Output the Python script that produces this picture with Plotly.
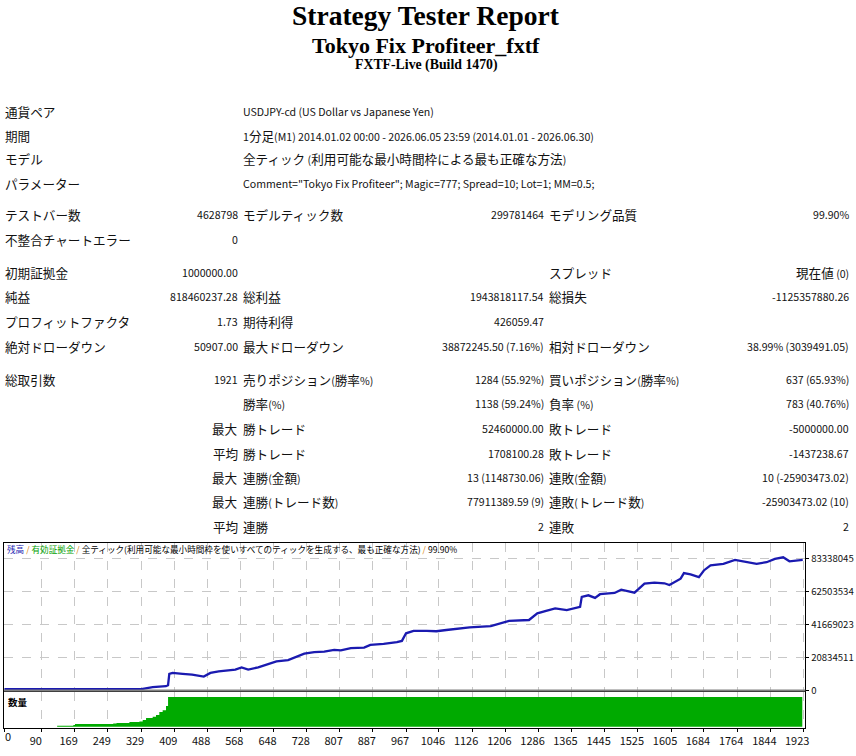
import re
import plotly.graph_objects as go

W, H = 856, 756

# ---- report header / table data ----
title_main = "Strategy Tester Report"
title_ea = "Tokyo Fix Profiteer_fxtf"
title_server = "FXTF-Live (Build 1470)"

info_labels = ["通貨ペア", "期間", "モデル", "パラメーター"]
info_values = ["USDJPY-cd (US Dollar vs Japanese Yen)",
               "1分足(M1) 2014.01.02 00:00 - 2026.06.05 23:59 (2014.01.01 - 2026.06.30)",
               "全ティック (利用可能な最小時間枠による最も正確な方法)",
               'Comment="Tokyo Fix Profiteer"; Magic=777; Spread=10; Lot=1; MM=0.5;']

stats_rows = [
    ("テストバー数", "4628798", "モデルティック数", "299781464", "モデリング品質", "99.90%"),
    ("不整合チャートエラー", "0", "", "", "", ""),
    ("初期証拠金", "1000000.00", "", "", "スプレッド", "現在値 (0)"),
    ("純益", "818460237.28", "総利益", "1943818117.54", "総損失", "-1125357880.26"),
    ("プロフィットファクタ", "1.73", "期待利得", "426059.47", "", ""),
    ("絶対ドローダウン", "50907.00", "最大ドローダウン", "38872245.50 (7.16%)", "相対ドローダウン", "38.99% (3039491.05)"),
    ("総取引数", "1921", "売りポジション(勝率%)", "1284 (55.92%)", "買いポジション(勝率%)", "637 (65.93%)"),
    ("", "", "勝率(%)", "1138 (59.24%)", "負率 (%)", "783 (40.76%)"),
    ("", "最大", "勝トレード", "52460000.00", "敗トレード", "-5000000.00"),
    ("", "平均", "勝トレード", "1708100.28", "敗トレード", "-1437238.67"),
    ("", "最大", "連勝(金額)", "13 (1148730.06)", "連敗(金額)", "10 (-25903473.02)"),
    ("", "最大", "連勝(トレード数)", "77911389.59 (9)", "連敗(トレード数)", "-25903473.02 (10)"),
    ("", "平均", "連勝", "2", "連敗", "2"),
]

# ---- chart data (balance, in million JPY) ----
balance_trade = [0, 60, 130, 180, 200, 240, 280, 300, 330, 340, 357, 389, 394, 397, 405, 429, 452,
                 480, 496, 516, 556, 571, 587, 611, 631, 655, 683, 707, 722, 746, 770, 794,
                 810, 834, 866, 881, 913, 945, 957, 967, 985, 1017, 1040, 1064, 1120, 1171,
                 1215, 1263, 1283, 1302, 1326, 1354, 1374, 1386, 1390, 1406, 1422, 1434,
                 1469, 1485, 1517, 1541, 1565, 1589, 1601, 1628, 1636, 1652, 1672, 1684,
                 1700, 1731, 1759, 1787, 1811, 1835, 1855, 1875, 1890, 1922]
balance_mjpy = [8, 8, 8, 10, 8, 8.5, 10, 9, 9, 14, 21, 27, 33, 105, 111, 105, 100,
                88, 111, 121, 132, 146, 132, 146, 163, 184, 192, 215, 232, 242, 246, 257,
                253, 267, 271, 288, 294, 305, 313, 361, 376, 377, 374, 382, 399, 407,
                439, 445, 487, 501, 518, 507, 518, 528, 591, 601, 585, 608,
                616, 637, 618, 675, 681, 677, 666, 706, 741, 733, 716, 758,
                790, 800, 825, 810, 800, 810, 831, 841, 816, 825]

vol_trade = [0, 127, 166, 170, 206, 262, 270, 301, 325, 333, 341, 357, 365, 373, 381, 389, 394, 1921]
vol_lots = [0, 1.7, 3, 5, 5, 5.5, 6.5, 8, 9, 11.5, 15, 17, 20, 25, 28, 35, 50, 50]

x_ticks = [0, 90, 169, 249, 329, 409, 488, 568, 648, 728, 807, 887, 967, 1046, 1126,
           1206, 1286, 1365, 1445, 1525, 1605, 1684, 1764, 1844, 1923]
y_tickvals = [0, 208345113, 416690227, 625035340, 833380454]
y_ticktext = ["0", "20834511", "41669023", "62503534", "83338045"]


def px(x):
    return x / W


def py(y):
    return 1 - y / H


FONT = "Noto Sans CJK JP"
SERIF = "Liberation Serif"
CJK = re.compile(r"([\u3000-\u30ff\u4e00-\u9fff\uff00-\uffef]+)")


def jp(text, big):
    # kanji/kana a bit larger than the latin part, like the MT4 report
    return CJK.sub(lambda m: "<span style='font-size:%spx'>%s</span>" % (big, m.group(1)), text)


fig = go.Figure()

fig.add_trace(go.Scatter(x=balance_trade, y=[v * 1e6 for v in balance_mjpy],
                         mode="lines", line=dict(color="#1A1AB0", width=2.3),
                         xaxis="x", yaxis="y", hoverinfo="skip"))
fig.add_trace(go.Scatter(x=vol_trade, y=vol_lots, mode="lines",
                         line=dict(color="#00AA00", width=0, shape="hv"),
                         fill="tozeroy", fillcolor="#00AA00",
                         xaxis="x2", yaxis="y2", hoverinfo="skip"))

ann = []
ann.append(dict(x=0.5, y=py(16), text="<b>" + title_main + "</b>",
                font=dict(family=SERIF, size=27.5, color="black")))
ann.append(dict(x=0.5, y=py(46), text="<b>" + title_ea + "</b>",
                font=dict(family=SERIF, size=22, color="black")))
ann.append(dict(x=0.5, y=py(66), text="<b>" + title_server + "</b>",
                font=dict(family=SERIF, size=13.8, color="black")))

info_y = [112, 137, 160, 185]
for lab, val, yy in zip(info_labels, info_values, info_y):
    ann.append(dict(x=px(3), y=py(yy), text=jp(lab, 12.6), xanchor="left"))
    ann.append(dict(x=px(242), y=py(yy), text=jp(val, 12.6), xanchor="left"))

row_y = [216, 241, 275, 299, 324, 349, 383, 407, 432, 457, 481, 506, 531]
col_x = [(3, "left"), (241, "right"), (242, "left"), (549, "right"), (550, "left"), (855, "right")]
for row, yy in zip(stats_rows, row_y):
    for txt, (xx, anc) in zip(row, col_x):
        if txt:
            ann.append(dict(x=px(xx), y=py(yy), text=jp(txt, 12.6), xanchor=anc))

for a in ann:
    a.setdefault("font", dict(family=FONT, size=10.6, color="#111111"))
    a.update(xref="paper", yref="paper", showarrow=False, yanchor="middle")
    a.setdefault("xanchor", "center")

orange = "#D88000"
legend_txt = ("<span style='color:#1A1AB0'>残高</span><span style='color:%s'> / </span>"
              "<span style='color:#00A000'>有効証拠金</span><span style='color:%s'> / </span>"
              "全ティック(利用可能な最小時間枠を使いすべてのティックを生成する、最も正確な方法)"
              "<span style='color:%s'> / </span>99.90%%") % (orange, orange, orange)
ann.append(dict(x=px(5), y=py(553), xref="paper", yref="paper", showarrow=False,
                xanchor="left", yanchor="middle", text=legend_txt,
                font=dict(family=FONT, size=8.6, color="black")))
ann.append(dict(x=px(6), y=py(708), xref="paper", yref="paper", showarrow=False,
                xanchor="left", yanchor="middle", text="<b>数量</b>",
                font=dict(family=FONT, size=9.5, color="black")))
# the first trade-number label sits just inside the frame in MT4
ann.append(dict(x=0, y=py(742), xref="x2", yref="paper", showarrow=False, xshift=4,
                xanchor="center", yanchor="middle", text="0",
                font=dict(family=FONT, size=11, color="#111111")))

grid = dict(showgrid=True, gridcolor="#C8C8C8", griddash="dash", gridwidth=1)
frame = dict(showline=True, linecolor="black", linewidth=1, mirror=True, zeroline=False)

fig.update_layout(
    width=W, height=H, margin=dict(l=0, r=0, t=0, b=0), autosize=False,
    paper_bgcolor="white", plot_bgcolor="white", showlegend=False,
    annotations=ann,
    xaxis=dict(domain=[px(4), px(809)], range=[-1, 1928], tickvals=x_ticks,
               showticklabels=False, ticks="", anchor="y", **grid, **frame),
    yaxis=dict(domain=[py(696), py(547)], range=[0, 933.6e6], side="right",
               tickvals=y_tickvals, ticktext=y_ticktext, ticks="outside", ticklen=3,
               tickcolor="black", anchor="x",
               tickfont=dict(family=FONT, size=9.6, color="#111111"), **grid, **frame),
    xaxis2=dict(domain=[px(4), px(809)], range=[-1, 1928], tickvals=x_ticks,
                ticktext=[str(t) for t in x_ticks], ticks="outside", ticklen=3,
                tickcolor="black", anchor="y2", ticklabelshift=-6,
                tickfont=dict(family=FONT, size=11, color="#111111"), **grid, **frame),
    yaxis2=dict(domain=[py(734), py(698)], range=[-2.2, 57.8], showticklabels=False,
                ticks="", showgrid=False, anchor="x2", **frame),
)

# thick grey bottom edge of the balance panel
fig.add_shape(type="line", xref="paper", yref="paper", x0=px(4), x1=px(809),
              y0=py(696), y1=py(696), line=dict(color="#808080", width=2))

page_css = ("var s='margin:0;padding:0;overflow:hidden;width:856px;height:756px';"
            "document.documentElement.style.cssText=s;document.body.style.cssText=s;")
fig.write_html("out.html",
               config={"displayModeBar": False, "responsive": False},
               post_script=page_css)
